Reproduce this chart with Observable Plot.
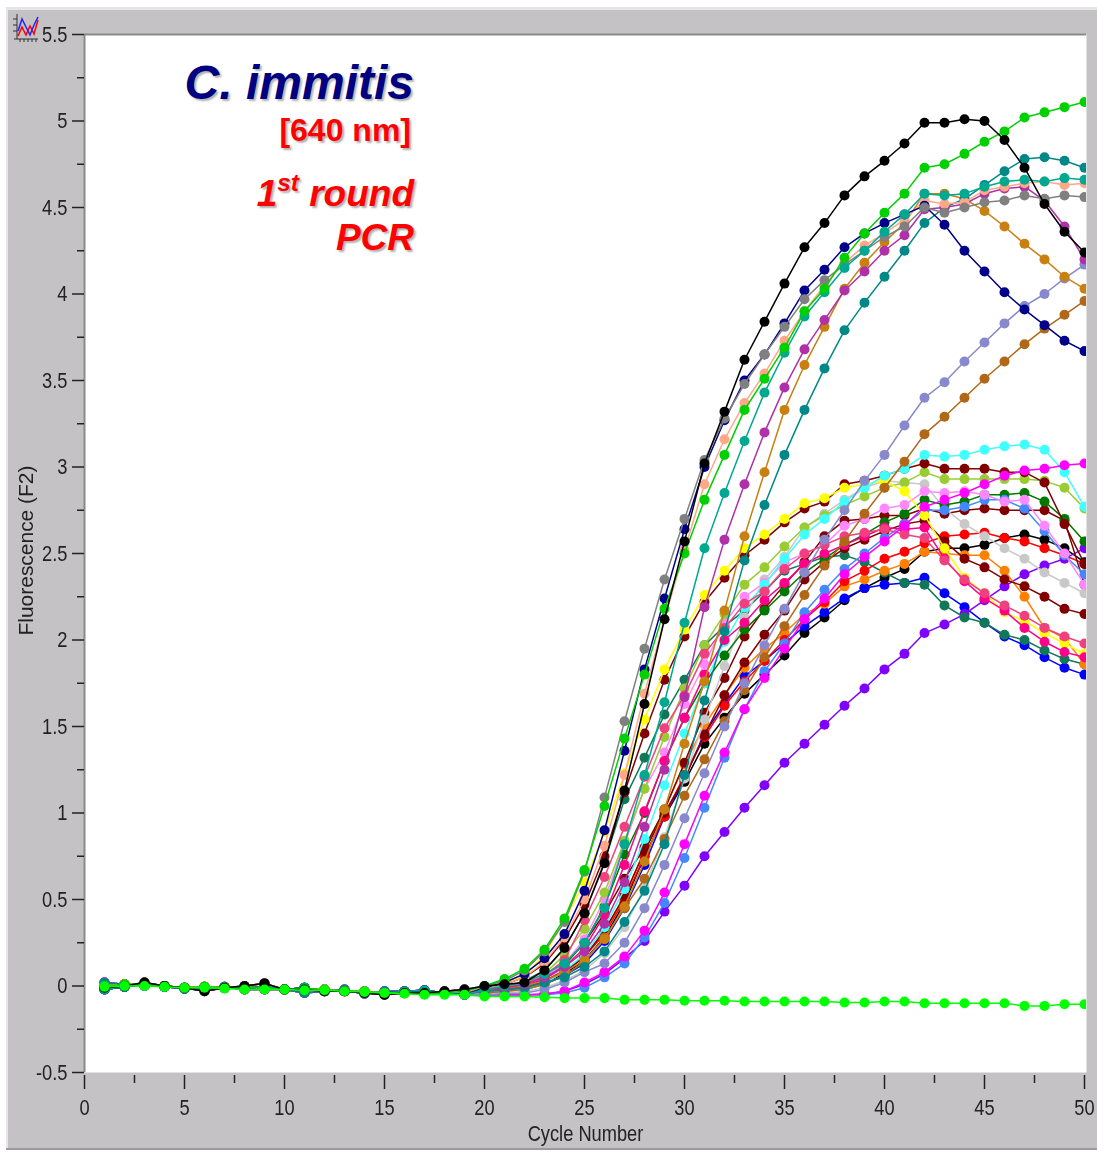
<!DOCTYPE html>
<html><head><meta charset="utf-8">
<script src="https://cdn.jsdelivr.net/npm/d3@7"></script>
<script src="https://cdn.jsdelivr.net/npm/@observablehq/plot@0.6"></script>
<style>
html,body{margin:0;padding:0;background:#fff;width:1097px;height:1154px;overflow:hidden}
#panel{position:absolute;left:6px;top:7px;width:1091px;height:1143px;background:#c4c2c4;border-bottom:2px solid #9c9a9c;box-sizing:border-box;box-shadow:inset 3px 4px 0 -1px #e6e6e8}
#chart{position:absolute;left:0;top:0;filter:blur(.5px)}
#icon{position:absolute;left:12px;top:11px;filter:blur(.3px)}
.ann{position:absolute;right:683px;font-family:"Liberation Sans",Arial,sans-serif;font-weight:bold;white-space:nowrap;line-height:1;text-shadow:2px 2px 2px #b0b0b0}
.ann sup{font-size:66%;line-height:0;position:relative;top:-.62em;vertical-align:baseline}
</style></head><body>
<div id="panel"></div>
<div id="chart"></div>
<svg id="icon" width="28" height="36" viewBox="0 0 28 36">
<path d="M5 3V28H26M2 28H5M1 8H5M1 14H5M1 20H5M8 28V31M12 28V31M16 28V31M20 28V31M24 28V31" fill="none" stroke="#333" stroke-width="1"/>
<polyline points="6,25 10,16 14,24 18,15 22,23 26,9" fill="none" stroke="#f00" stroke-width="1.5"/>
<polyline points="6,20 10,8 14,16 18,24 22,14 26,6" fill="none" stroke="#22f" stroke-width="1.5"/>
</svg>
<div class="ann" style="top:59px;font-size:48px;font-style:italic;color:#000080">C. immitis</div>
<div class="ann" style="top:114px;right:686px;font-size:32px;color:#f00">[640 nm]</div>
<div class="ann" style="top:175px;font-size:37px;font-style:italic;color:#f00">1<sup>st</sup> round</div>
<div class="ann" style="top:219px;font-size:37px;font-style:italic;color:#f00">PCR</div>
<script>
// Shared early-cycle readings (cycles 1-19)
const baseA=[0,.01,.01,0,-.01,-.005,-.01,-.005,-.01,-.02,-.015,-.02,-.03,-.03,-.04,-.04,-.045,-.04,-.03];
const baseB=[-.01,0,.02,0,-.01,-.03,-.01,0,.015,-.02,-.02,-.03,-.03,-.04,-.05,-.04,-.04,-.03,-.02];
const baseC=[.02,.01,0,0,-.01,-.01,-.005,-.02,-.02,-.02,-.04,-.03,-.02,-.045,-.03,-.03,-.03,-.04,-.045];
const baseD=[-.02,-.005,.01,-.005,-.015,-.01,-.01,-.01,-.005,-.02,-.01,-.03,-.03,-.04,-.04,-.03,-.025,-.04,-.05];
const baseLime=[-.005,0,0,-.005,-.01,-.01,-.015,-.02,-.02,-.02,-.025,-.025,-.03,-.035,-.04,-.045,-.05,-.05,-.05];

// Cycles 20-50 for each curve
const black1=[0,.01,.02,.09,.22,.42,.71,1.13,1.63,2.12, 2.57,3.02,3.32,3.62,3.84,4.06,4.27,4.41,4.57,4.68, 4.77,4.87,4.99,4.99,5.01,5.0,4.89,4.73,4.52,4.36,4.24];
const green=[0,.04,.10,.21,.39,.67,1.04,1.43,1.80,2.18, 2.50,2.81,3.07,3.33,3.51,3.69,3.90,4.03,4.21,4.35, 4.47,4.58,4.73,4.75,4.81,4.88,4.94,5.02,5.05,5.08,5.11];
const navy=[-.01,.02,.07,.16,.30,.55,.90,1.36,1.83,2.24, 2.64,3.0,3.27,3.50,3.65,3.83,4.02,4.14,4.27,4.35, 4.41,4.46,4.51,4.40,4.25,4.13,4.01,3.91,3.82,3.73,3.67];
const gray=[0,.03,.09,.20,.37,.66,1.09,1.53,1.95,2.35, 2.70,3.04,3.28,3.48,3.65,3.81,3.97,4.08,4.17,4.25, 4.33,4.39,4.50,4.47,4.50,4.53,4.54,4.57,4.55,4.57,4.56];
const salmon=[-.01,.01,.05,.14,.28,.50,.81,1.22,1.69,2.12, 2.52,2.90,3.16,3.37,3.54,3.73,3.90,4.05,4.18,4.28, 4.35,4.43,4.54,4.52,4.53,4.60,4.62,4.64,4.65,4.63,4.64];
const tealGreen=[-.02,0,.02,.07,.13,.25,.45,.82,1.22,1.64, 2.10,2.53,2.85,3.15,3.43,3.66,3.87,4.01,4.15,4.25, 4.36,4.46,4.58,4.57,4.58,4.62,4.65,4.66,4.65,4.67,4.66];
const teal=[-.03,-.02,-.01,.02,.05,.11,.20,.37,.55,.82, 1.22,1.65,2.05,2.46,2.78,3.07,3.33,3.57,3.79,3.95, 4.10,4.25,4.41,4.50,4.55,4.63,4.71,4.78,4.79,4.77,4.73];
const purple=[-.02,-.01,.01,.05,.11,.20,.36,.60,.92,1.25, 1.67,2.19,2.58,2.90,3.20,3.46,3.68,3.85,4.02,4.13, 4.25,4.34,4.49,4.50,4.52,4.58,4.61,4.62,4.54,4.39,4.20];
const ochre=[-.02,-.01,0,.03,.08,.15,.27,.46,.72,1.02, 1.40,1.76,2.17,2.60,2.97,3.33,3.59,3.81,4.03,4.18, 4.30,4.41,4.58,4.58,4.55,4.48,4.39,4.29,4.20,4.10,4.03];
const lavender=[-.05,-.045,-.04,-.02,.02,.08,.13,.25,.45,.70, .97,1.23,1.50,1.75,1.97,2.18,2.39,2.58,2.75,2.92, 3.07,3.24,3.40,3.49,3.61,3.72,3.83,3.93,4.00,4.09,4.17];
const brown=[-.04,-.03,-.02,.01,.06,.14,.28,.45,.62,.85, 1.10,1.31,1.53,1.71,1.90,2.08,2.26,2.43,2.57,2.73, 2.88,3.03,3.19,3.29,3.40,3.51,3.61,3.71,3.80,3.88,3.96];
const cyan=[-.04,-.03,-.02,.01,.09,.18,.34,.56,.85,1.16, 1.46,1.75,1.99,2.19,2.32,2.47,2.61,2.70,2.80,2.88, 2.95,2.99,3.07,3.06,3.07,3.10,3.12,3.13,3.10,2.97,2.77];
const darkRed=[-.01,.01,.05,.13,.27,.47,.75,1.12,1.46,1.77, 2.02,2.22,2.36,2.49,2.58,2.68,2.76,2.80,2.90,2.92, 2.95,2.99,3.02,2.99,2.99,2.99,2.97,2.97,2.91,2.67,2.44];
const yellow=[0,.02,.06,.18,.38,.60,.89,1.23,1.54,1.83, 2.06,2.26,2.40,2.53,2.61,2.70,2.79,2.82,2.88,2.90, 2.92,2.86,2.72,2.53,2.36,2.27,2.16,2.11,2.04,1.98,1.92];
const yellowGreen=[-.02,-.01,.02,.07,.18,.33,.54,.84,1.14,1.44, 1.72,1.97,2.15,2.32,2.42,2.54,2.65,2.72,2.78,2.83, 2.88,2.91,2.97,2.93,2.93,2.93,2.93,2.93,2.92,2.88,2.76];
const magenta=[-.05,-.05,-.05,-.045,-.03,.02,.08,.17,.32,.54, .82,1.10,1.35,1.60,1.78,1.95,2.12,2.24,2.38,2.48, 2.57,2.66,2.77,2.81,2.85,2.90,2.95,2.98,2.99,3.01,3.02];
const lightBlue=[-.05,-.05,-.05,-.05,-.04,-.01,.05,.13,.28,.48, .74,1.03,1.32,1.60,1.82,1.98,2.16,2.29,2.41,2.50, 2.59,2.67,2.75,2.75,2.77,2.81,2.81,2.76,2.63,2.49,2.38];
const violet=[-.05,-.05,-.05,-.05,-.03,.01,.07,.16,.26,.43, .58,.75,.89,1.03,1.16,1.29,1.40,1.51,1.62,1.72, 1.83,1.92,2.04,2.09,2.15,2.23,2.31,2.38,2.43,2.47,2.53];
const blue=[-.04,-.03,-.02,.01,.06,.13,.26,.45,.70,.98, 1.20,1.46,1.63,1.79,1.88,1.98,2.08,2.16,2.24,2.30, 2.32,2.33,2.36,2.27,2.19,2.10,2.02,1.97,1.90,1.84,1.80];
const darkTeal=[-.02,-.01,.03,.09,.22,.42,.72,1.08,1.32,1.57, 1.77,1.97,2.08,2.17,2.28,2.40,2.44,2.48,2.49,2.45, 2.39,2.33,2.32,2.20,2.13,2.10,2.03,2.00,1.94,1.89,1.86];
const black2=[-.04,-.03,-.01,.02,.07,.15,.28,.48,.75,.98, 1.18,1.40,1.55,1.69,1.80,1.91,2.04,2.13,2.23,2.30, 2.36,2.41,2.51,2.53,2.53,2.55,2.59,2.61,2.58,2.53,2.45];
const orange=[-.04,-.03,-.02,.02,.08,.17,.32,.52,.78,1.02, 1.28,1.51,1.68,1.84,1.95,2.04,2.15,2.21,2.31,2.35, 2.40,2.44,2.51,2.50,2.49,2.49,2.40,2.25,2.07,2.01,1.86];
const red=[-.04,-.03,-.01,.03,.09,.17,.30,.50,.75,.98, 1.22,1.44,1.62,1.76,1.88,2.00,2.12,2.22,2.34,2.40, 2.47,2.51,2.56,2.60,2.61,2.62,2.59,2.57,2.53,2.49,2.44];
const lightGray=[-.05,-.04,-.03,-.01,.03,.09,.19,.34,.57,.86, 1.20,1.54,1.85,2.13,2.35,2.48,2.65,2.73,2.81,2.88, 2.92,2.91,2.90,2.76,2.67,2.60,2.53,2.47,2.39,2.33,2.27];
const darkGreen=[-.03,-.02,0,.04,.12,.25,.46,.76,1.00,1.30, 1.55,1.75,1.91,2.06,2.17,2.28,2.39,2.47,2.55,2.61, 2.68,2.73,2.81,2.78,2.80,2.84,2.84,2.85,2.80,2.70,2.57];
const lightPink=[-.03,-.02,0,.05,.13,.27,.50,.82,1.14,1.35, 1.63,1.86,2.10,2.25,2.33,2.45,2.50,2.55,2.66,2.70, 2.76,2.78,2.86,2.85,2.86,2.84,2.80,2.81,2.66,2.50,2.32];
const maroonA=[-.03,-.02,0,.03,.08,.17,.32,.52,.78,1.00, 1.20,1.45,1.68,1.87,2.03,2.17,2.35,2.45,2.53,2.58, 2.63,2.67,2.69,2.57,2.47,2.42,2.35,2.31,2.25,2.18,2.15];
const maroonB=[-.03,-.01,.01,.05,.13,.25,.42,.62,.80,1.02, 1.29,1.58,1.78,2.02,2.18,2.32,2.45,2.60,2.69,2.70, 2.72,2.72,2.76,2.73,2.75,2.76,2.75,2.75,2.75,2.69,2.32];
const pinkA=[-.03,-.01,.01,.06,.15,.38,.63,.92,1.21,1.49, 1.68,1.92,2.07,2.21,2.28,2.41,2.50,2.55,2.60,2.62, 2.64,2.61,2.59,2.46,2.35,2.27,2.20,2.14,2.07,2.02,1.98];
const pinkB=[-.03,-.02,0,.04,.11,.22,.41,.70,1.01,1.30, 1.55,1.80,2.00,2.10,2.23,2.33,2.44,2.50,2.55,2.60, 2.65,2.64,2.65,2.47,2.34,2.24,2.17,2.07,1.99,1.93,1.90];
const lime=[-.06,-.06,-.06,-.065,-.07,-.07,-.07,-.08,-.08,-.08, -.085,-.085,-.085,-.09,-.09,-.09,-.09,-.09,-.095,-.095, -.09,-.09,-.1,-.1,-.1,-.1,-.1,-.115,-.115,-.105,-.105];

const curves=[
 [baseB,black2,"#000000"],[baseA,blue,"#0000ff"],[baseD,violet,"#8000ff"],[baseA,darkTeal,"#107858"],
 [baseD,orange,"#ff8000"],[baseC,red,"#ff0000"],[baseA,maroonA,"#800000"],[baseD,maroonB,"#800000"],
 [baseC,lightGray,"#c8c8c8"],[baseD,darkGreen,"#007800"],[baseA,lightBlue,"#4488ff"],[baseC,lightPink,"#ff88ff"],
 [baseA,yellowGreen,"#99cc33"],[baseB,darkRed,"#800000"],[baseA,yellow,"#ffff00"],[baseC,cyan,"#40ffff"],
 [baseC,pinkB,"#ff0088"],[baseA,pinkA,"#f04080"],[baseC,magenta,"#ff00ff"],
 [baseA,brown,"#b06818"],[baseD,lavender,"#8888cc"],[baseA,ochre,"#c88010"],[baseC,teal,"#008888"],
 [baseD,purple,"#b030a8"],[baseA,salmon,"#ffa888"],[baseD,navy,"#000088"],[baseB,gray,"#808080"],
 [baseD,tealGreen,"#00a890"],[baseA,green,"#00d000"],[baseB,black1,"#000000"],[baseLime,lime,"#00ff00"]
];
const cycles=d3.range(1,51);
const majorY=d3.range(-.5,5.51,.5), minorY=d3.range(-.25,5.5,.5);
const majorX=d3.range(0,51,5), minorX=d3.range(2.5,50,5);
const axisFont="'Liberation Sans',Arial,sans-serif";

const marks=[Plot.frame({fill:"#fff",stroke:null})];
for(const [base,late,color] of curves){
  const values=base.concat(late);
  const rows=cycles.map((c,i)=>({cycle:c,value:values[i]}));
  marks.push(Plot.line(rows,{x:"cycle",y:"value",stroke:color,strokeWidth:1.5,clip:true}));
  marks.push(Plot.dot(rows,{x:"cycle",y:"value",fill:color,r:5,clip:true}));
}
marks.push(
 Plot.ruleY([5.5],{stroke:"#8a8a8a",strokeWidth:2}),
 Plot.ruleX([0],{stroke:"#8a8a8a",strokeWidth:2}),
 Plot.axisY({anchor:"left",ticks:majorY,tickSize:12,tickPadding:5,tickFormat:d=>String(d),fontSize:22,fontFamily:axisFont,
   label:"Fluorescence (F2)",labelAnchor:"center",labelOffset:66,labelArrow:"none",stroke:"#222",fill:"#222",strokeWidth:1.5}),
 Plot.axisY({anchor:"left",ticks:minorY,tickSize:7,tickFormat:()=>"",label:null,stroke:"#222",strokeWidth:1.5}),
 Plot.axisX({anchor:"bottom",ticks:majorX,tickSize:14,tickPadding:10,dy:3,tickFormat:d=>String(d),fontSize:22,fontFamily:axisFont,
   label:"Cycle Number",labelAnchor:"center",labelOffset:68,labelArrow:"none",stroke:"#222",fill:"#222",strokeWidth:1.5}),
 Plot.axisX({anchor:"bottom",ticks:minorX,tickSize:8,dy:3,tickFormat:()=>"",label:null,stroke:"#222",strokeWidth:1.5})
);
const chart=Plot.plot({
  width:1097,height:1154,
  marginLeft:84,marginTop:34,marginRight:11,marginBottom:82,
  x:{domain:[0,50],range:[84,1084]},
  y:{domain:[-.5,5.5],range:[1072,34]},
  style:{background:"transparent",overflow:"visible"},
  marks
});
document.getElementById("chart").append(chart);
// The reference's axis type is a horizontally squeezed sans: condense the real text in place.
for(const t of chart.querySelectorAll("text")){
  const s=t.textContent.trim();
  if(!s) continue;
  const isY=s.startsWith("Fluor");
  const squeeze=isY?.92:.83;
  const w=t.getComputedTextLength();
  t.setAttribute("textLength",(w*squeeze).toFixed(1));
  t.setAttribute("lengthAdjust","spacingAndGlyphs");
  if(isY){t.setAttribute("dx","3");t.setAttribute("font-size","20");t.setAttribute("textLength","170");}
}
</script>
</body></html>
